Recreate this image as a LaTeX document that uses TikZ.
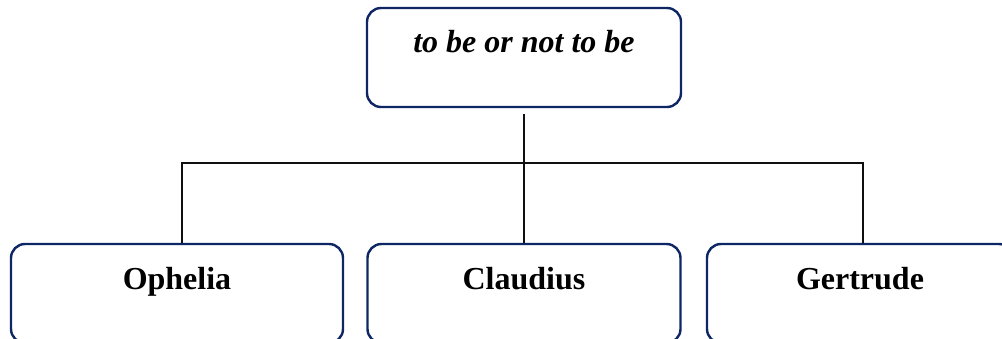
\documentclass[tikz,border=0pt]{standalone}
\usepackage{fontspec}
\setmainfont{Liberation Serif}
\usepackage{tikz}
\usetikzlibrary{positioning, calc}
\usepackage{xcolor}
\definecolor{hamnavy}{RGB}{14,38,100}
\definecolor{hamink}{RGB}{15,15,15}

\begin{document}
\begin{tikzpicture}[
  x=1pt, y=1pt,
  role/.style={draw=hamnavy, line width=2.4pt, rounded corners=14pt,
               inner ysep=0pt, text height=45pt, text depth=54pt,
               font=\fontsize{32}{38}\selectfont\bfseries},
  link/.style={hamink, line width=1.8pt},
]
  \useasboundingbox (0,0) rectangle (1002,338);

  % ── Question ──
  \node[role, minimum width=314pt, font=\fontsize{32}{38}\selectfont\bfseries\itshape]
    (root) at (524, 280.5) {to be or not to be};

  % ── Characters ──
  \node[role, minimum width=332pt] (ophelia)  at (177, 44.5) {Ophelia};
  \node[role, minimum width=313pt] (claudius) at (524, 44.5) {Claudius};
  \node[role, minimum width=306pt] (gertrude) at (860, 44.5) {Gertrude};

  % ── Branches ──
  \coordinate (bus) at ($(root.south)+(0,-55)$);
  \draw[link] ([yshift=-6pt]root.south) -- (claudius.north);
  \draw[link] ([xshift=5pt]ophelia.north) |- (bus) -| ([xshift=3pt]gertrude.north);
\end{tikzpicture}
\end{document}
